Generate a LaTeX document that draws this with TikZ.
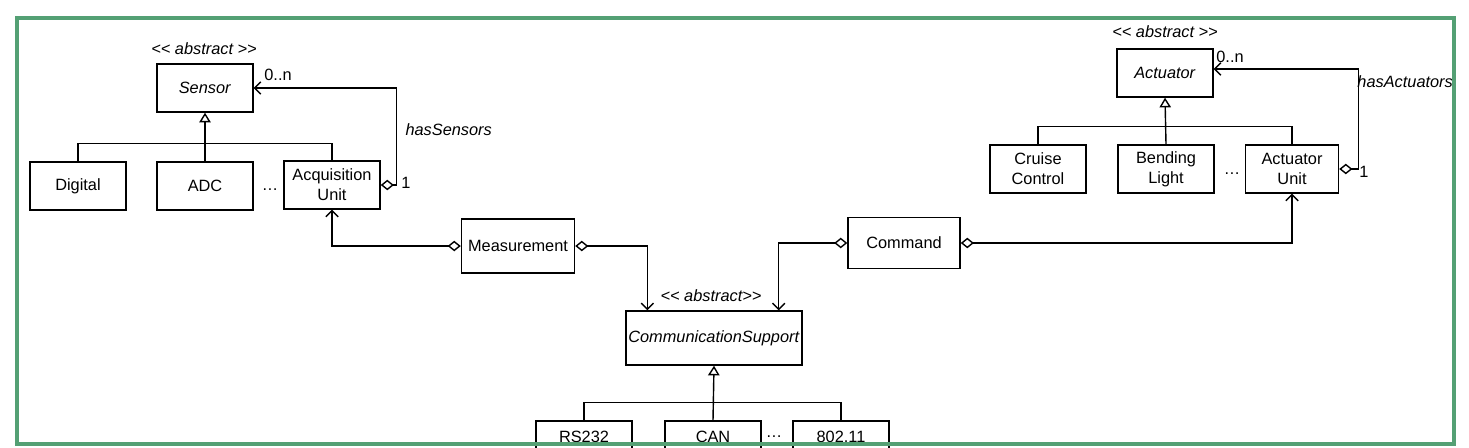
\documentclass[tikz,border=0pt]{standalone}
\usepackage{fontspec}
\setmainfont{Liberation Sans}
\usepackage{tikz}
\usetikzlibrary{arrows.meta,calc,positioning}
\definecolor{framegreen}{RGB}{84,160,116}
\tikzstyle{cls}=[draw,minimum width=1.92cm,minimum height=0.96cm,inner sep=0pt,align=center]
\tikzstyle{gen}=[-{Triangle[open,length=5.5pt,width=6.5pt]}]
\tikzstyle{assoc}=[{Diamond[open,length=7.5pt,width=6pt]}-{Straight Barb[length=3.5pt,width=7pt]}]
\tikzstyle{stereo}=[font=\fontsize{9.3}{11.5}\selectfont\itshape]
\newcommand{\stereotxt}[1]{<\kern0pt< #1>\kern0pt>}

\begin{document}
\begin{tikzpicture}[x=0.02cm,y=-0.02cm,line width=0.8pt,font=\fontsize{9.3}{11.5}\selectfont]

\useasboundingbox (0,0) rectangle (1469,447);

% % % % % % % % % % % % % % %
% sensors

\node[cls] (sensor) at (205,88) {\textit{Sensor}};
\node[stereo] (sensorST) at (204,49) {\stereotxt{abstract }};
\node[cls] (digital) at (78,186) {Digital};
\node[cls] (adc) at (205,186) {ADC};
\node[cls] (acq) at (332,185) {Acquisition\\Unit};
\node (dotsS) at (270,190) {\dots};

% % % % % % % % % % % % % % %
% actuators

\node[cls] (actuator) at (1165,73) {\textit{Actuator}};
\node[stereo] (actuatorST) at (1165,32) {\stereotxt{abstract }};
\node[cls] (cruise) at (1038,169) {Cruise\\Control};
\node[cls] (bending) at (1166,169) {Bending\\Light};
\node[cls,minimum width=1.86cm] (actunit) at (1292,169) {Actuator\\Unit};
\node (dotsA) at (1232,174) {\dots};

% % % % % % % % % % % % % % %
% messages and communication

\node[cls,minimum width=2.26cm,minimum height=1.08cm] (meas) at (518,246) {Measurement};
\node[cls,minimum width=2.24cm,minimum height=1.02cm] (cmd) at (904,243) {Command};
\node[cls,minimum width=3.52cm,minimum height=1.08cm] (comm) at (714,338) {\textit{CommunicationSupport}};
\node[stereo] (commST) at (711,296) {\stereotxt{abstract}};
\node[cls,minimum height=0.64cm] (rs232) at (584,437) {RS232};
\node[cls,minimum height=0.64cm] (can) at (713,437) {CAN};
\node[cls,minimum height=0.64cm] (wifi) at (841,437) {802.11};
\node (dotsC) at (774,437) {\dots};

% % % % % % % % % % % % % % %
% inheritance

\foreach \base/\ca/\cb/\cc in {sensor/digital/adc/acq,actuator/cruise/bending/actunit,comm/rs232/can/wifi} {
\draw[gen] (\cb.north) -- (\base.south);
\draw (\ca.north) -- ++(0,-18) -| (\cc.north);
}

% % % % % % % % % % % % % % %
% associations

\draw[assoc] (acq.east) -- ++(16,0) |- (sensor.east);
\node (sensorMul) at (278,75) {0..n};
\node (acqMul) at (406,183) {1};
\node[stereo,anchor=west] (hasS) at (399,130) {hasSensors};

\draw[assoc] (actunit.east) -- ++(19,0) |- ($(actuator.east)+(0,-4)$);
\node (actuatorMul) at (1230,57) {0..n};
\node (actunitMul) at (1364,172) {1};
\node[stereo,anchor=west,inner sep=1pt] (hasA) at (1355,82) {hasActuators};

\draw[assoc] (meas.west) -| (acq.south);
\draw[assoc] (meas.east) -| ($(comm.north west)+(22,0)$);
\draw[assoc] (cmd.west) -| ($(comm.north east)+(-24,0)$);
\draw[assoc] (cmd.east) -| (actunit.south);

% % % % % % % % % % % % % % %

\draw[framegreen,line width=2.3pt] (17,18) rectangle (1454,444);

\end{tikzpicture}
\end{document}
